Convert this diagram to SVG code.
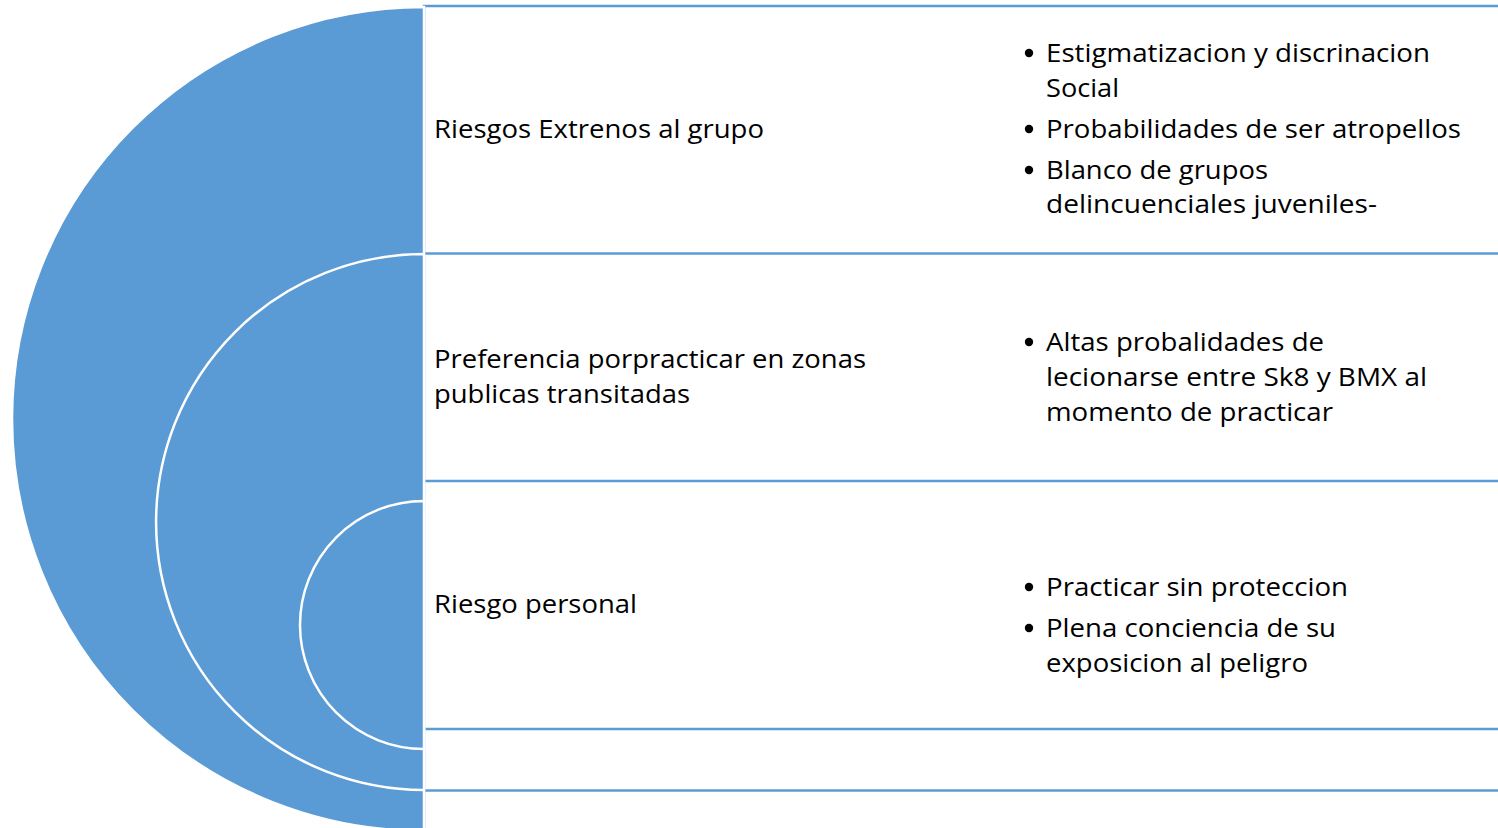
<svg xmlns="http://www.w3.org/2000/svg" width="1498" height="828" viewBox="0 0 1498 828">
<style>
.box{fill:#ffffff;stroke:#5B9BD5;stroke-width:2.5}
.disc{fill:#5B9BD5;stroke:#ffffff;stroke-width:2.5}
.t{font-family:"Open Sans","Noto Sans",sans-serif;font-size:26px;fill:#000000}
</style>
<rect width="1498" height="828" fill="#ffffff"/>
<g id="boxes">
<rect id="box-outer" class="box" x="424" y="6" width="1090" height="840"/>
<rect id="box-middle" class="box" x="424" y="253.5" width="1090" height="537"/>
<rect id="box-inner" class="box" x="424" y="481" width="1090" height="248"/>
</g>
<g id="disc-outer"><path class="disc" d="M424,7 A412,412 0 0 0 424,831 Z"/></g>
<g id="disc-middle"><path class="disc" d="M424,254 A268,268 0 0 0 424,790 Z"/></g>
<g id="disc-inner"><path class="disc" d="M424,501 A124,124 0 0 0 424,749 Z"/></g>
<g id="connectors"></g>
<g id="label-outer"><text class="t" x="434" y="138" textLength="330" lengthAdjust="spacingAndGlyphs">Riesgos Extrenos al grupo</text></g>
<g id="label-middle"><text class="t" x="434" y="368" textLength="432" lengthAdjust="spacingAndGlyphs">Preferencia porpracticar en zonas</text><text class="t" x="434" y="403" textLength="256" lengthAdjust="spacingAndGlyphs">publicas transitadas</text></g>
<g id="label-inner"><text class="t" x="434" y="613" textLength="203" lengthAdjust="spacingAndGlyphs">Riesgo personal</text></g>
<g id="bullets-outer">
<circle cx="1029" cy="53" r="4.2"/><text class="t" x="1046" y="62" textLength="384" lengthAdjust="spacingAndGlyphs">Estigmatizacion y discrinacion</text>
<text class="t" x="1046" y="97" textLength="73" lengthAdjust="spacingAndGlyphs">Social</text>
<circle cx="1029" cy="129" r="4.2"/><text class="t" x="1046" y="138" textLength="415" lengthAdjust="spacingAndGlyphs">Probabilidades de ser atropellos</text>
<circle cx="1029" cy="170" r="4.2"/><text class="t" x="1046" y="179" textLength="222" lengthAdjust="spacingAndGlyphs">Blanco de grupos</text>
<text class="t" x="1046" y="213" textLength="331" lengthAdjust="spacingAndGlyphs">delincuenciales juveniles-</text>
</g>
<g id="bullets-middle">
<circle cx="1029" cy="342" r="4.2"/><text class="t" x="1046" y="351" textLength="278" lengthAdjust="spacingAndGlyphs">Altas probalidades de</text>
<text class="t" x="1046" y="386" textLength="381" lengthAdjust="spacingAndGlyphs">lecionarse entre Sk8 y BMX al</text>
<text class="t" x="1046" y="421" textLength="287" lengthAdjust="spacingAndGlyphs">momento de practicar</text>
</g>
<g id="bullets-inner">
<circle cx="1029" cy="587" r="4.2"/><text class="t" x="1046" y="596" textLength="302" lengthAdjust="spacingAndGlyphs">Practicar sin proteccion</text>
<circle cx="1029" cy="628" r="4.2"/><text class="t" x="1046" y="637" textLength="290" lengthAdjust="spacingAndGlyphs">Plena conciencia de su</text>
<text class="t" x="1046" y="672" textLength="262" lengthAdjust="spacingAndGlyphs">exposicion al peligro</text>
</g>
</svg>
